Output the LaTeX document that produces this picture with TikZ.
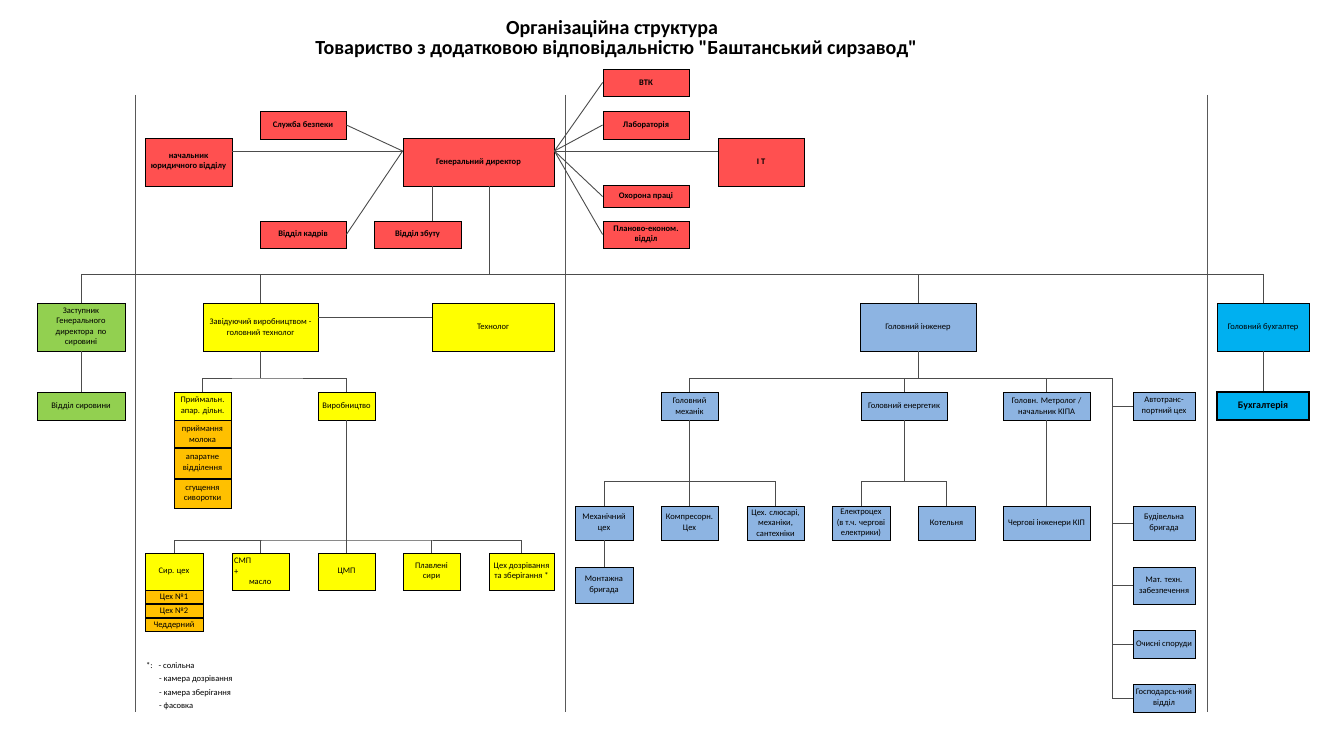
\documentclass[tikz,border=0pt]{standalone}
\usepackage{fontspec}
\setmainfont{Carlito}[Ligatures=TeXOff]
\usepackage{tikz}
\usepackage{xcolor}
\usetikzlibrary{positioning}
\definecolor{redfill}{RGB}{255,80,80}
\definecolor{greenfill}{RGB}{146,208,80}
\definecolor{yellowfill}{RGB}{255,255,0}
\definecolor{orangefill}{RGB}{255,192,0}
\definecolor{bluefill}{RGB}{141,180,226}
\definecolor{cyanfill}{RGB}{0,176,240}
\tikzstyle{box} = [rectangle, draw, line width=0.8pt, align=center, inner sep=1pt, font=\fontsize{8.5}{10.5}\selectfont]
\tikzstyle{redbox} = [box, fill=redfill, font=\bfseries\fontsize{8.5}{10.5}\selectfont]
\tikzstyle{greenbox} = [box, fill=greenfill]
\tikzstyle{yellowbox} = [box, fill=yellowfill]
\tikzstyle{orangebox} = [box, fill=orangefill]
\tikzstyle{bluebox} = [box, fill=bluefill]
\tikzstyle{cyanbox} = [box, fill=cyanfill]
\tikzstyle{title} = [font=\bfseries\fontsize{20}{22}\selectfont]
\tikzstyle{note} = [anchor=west, inner sep=0pt, font=\fontsize{8.5}{10}\selectfont]
\tikzstyle{conn} = [draw=black!70, line width=0.9pt]
\tikzstyle{divider} = [draw=black!65, line width=1pt]

\begin{document}
\begin{tikzpicture}[x=1pt,y=-1pt]
  \fill[white] (0,0) rectangle (1335,735);
  \useasboundingbox (0,0) rectangle (1335,735);

  \node[title] (t1) at (612,29) {Організаційна структура};
  \node[title] (t2) at (616,49) {Товариство з додатковою відповідальністю "Баштанський сирзавод"};

  \draw[divider] (135,95) -- (135,712);
  \draw[divider] (565,95) -- (565,712);
  \draw[divider] (1207,95) -- (1207,712);

  \node[redbox, minimum width=87, minimum height=48] (yur) at (188.5,162) {начальник\\юридичного відділу};
  \node[redbox, minimum width=86, minimum height=28] (sb) at (303,125) {Служба безпеки};
  \node[redbox, minimum width=86, minimum height=27] (vk) at (303,234.5) {Відділ кадрів};
  \node[redbox, minimum width=87, minimum height=27] (vz) at (417.5,234.5) {Відділ збуту};
  \node[redbox, minimum width=151, minimum height=48] (gd) at (478.5,162) {Генеральний директор};
  \node[redbox, minimum width=86, minimum height=27] (vtk) at (646,82.5) {ВТК};
  \node[redbox, minimum width=86, minimum height=28] (lab) at (646,125) {Лабораторія};
  \node[redbox, minimum width=86, minimum height=48] (it) at (761,162) {I T};
  \node[redbox, minimum width=86, minimum height=22] (op) at (646,196.5) {Охорона праці};
  \node[redbox, minimum width=86, minimum height=27] (pe) at (646,234.5) {Планово-економ.\\відділ};

  \node[greenbox, minimum width=88, minimum height=48] (zast) at (81,327) {Заступник\\Генерального\\директора~~по\\сировині};
  \node[greenbox, minimum width=88, minimum height=28] (vs) at (81,406) {Відділ сировини};

  \node[yellowbox, minimum width=115, minimum height=48] (zav) at (260.5,327) {Завідуючий виробництвом -\\головний технолог};
  \node[yellowbox, minimum width=122, minimum height=48] (tech) at (493,327) {Технолог};
  \node[yellowbox, minimum width=57, minimum height=28] (pryi) at (202.5,406) {Приймальн.\\апар. дільн.};
  \node[orangebox, minimum width=57, minimum height=27] (pm) [below=0pt of pryi] {приймання\\молока};
  \node[orangebox, minimum width=57, minimum height=30] (ao) [below=0pt of pm] {апаратне\\відділення};
  \node[orangebox, minimum width=57, minimum height=29] (sg) [below=0pt of ao] {сгущення\\сиворотки};
  \node[yellowbox, minimum width=57, minimum height=28] (vyr) at (346.5,406) {Виробництво};

  \node[yellowbox, minimum width=58, minimum height=37] (syr) at (174,571.5) {Сир. цех};
  \node[orangebox, minimum width=58, minimum height=13] (c1) [below=0pt of syr] {Цех №1};
  \node[orangebox, minimum width=58, minimum height=13] (c2) [below=0pt of c1] {Цех №2};
  \node[orangebox, minimum width=58, minimum height=13] (ched) [below=0pt of c2] {Чеддерний};
  \node[yellowbox, minimum width=57, minimum height=37, text width=53pt, align=left] (smp) at (260.5,571.5) {СМП\\+\\\hspace{15pt}масло};
  \node[yellowbox, minimum width=57, minimum height=37] (cmp) at (346.5,571.5) {ЦМП};
  \node[yellowbox, minimum width=57, minimum height=37] (plav) at (431.5,571.5) {Плавлені\\сири};
  \node[yellowbox, minimum width=65, minimum height=37] (dozr) at (521.5,571.5) {Цех дозрівання\\та зберігання *};

  \node[note] (fn1) at (146,666) {*:\hspace{6pt}- солільна};
  \node[note] (fn2) at (159,679) {- камера дозрівання};
  \node[note] (fn3) at (159,693) {- камера зберігання};
  \node[note] (fn4) at (159,706) {- фасовка};

  \node[bluebox, minimum width=116, minimum height=48] (gi) at (918,327) {Головний інженер};
  \node[bluebox, minimum width=57, minimum height=28] (gm) at (689.5,406) {Головний\\механік};
  \node[bluebox, minimum width=86, minimum height=28] (ge) at (904,406) {Головний енергетик};
  \node[bluebox, minimum width=87, minimum height=28] (gmet) at (1046.5,406) {Головн. Метролог /\\начальник КІПА};
  \node[bluebox, minimum width=62, minimum height=28] (avto) at (1164,406) {Автотранс-\\портний цех};
  \node[bluebox, minimum width=58, minimum height=34] (mc) at (604,523) {Механічний\\цех};
  \node[bluebox, minimum width=57, minimum height=34] (komp) at (689.5,523) {Компресорн.\\Цех};
  \node[bluebox, minimum width=57, minimum height=34] (sl) at (775.5,523) {Цех. слюсарі,\\механіки,\\сантехніки};
  \node[bluebox, minimum width=58, minimum height=34] (el) at (861,523) {Електроцех\\(в т.ч. чергові\\електрики)};
  \node[bluebox, minimum width=57, minimum height=34] (kot) at (946.5,523) {Котельня};
  \node[bluebox, minimum width=87, minimum height=34] (chi) at (1046.5,523) {Чергові інженери КІП};
  \node[bluebox, minimum width=58, minimum height=36] (mont) at (604,585) {Монтажна\\бригада};
  \node[bluebox, minimum width=62, minimum height=34] (bud) at (1164,523) {Будівельна\\бригада};
  \node[bluebox, minimum width=62, minimum height=37] (mat) at (1164,585.5) {Мат. техн.\\забезпечення};
  \node[bluebox, minimum width=62, minimum height=28] (och) at (1164,644) {Очисні споруди};
  \node[bluebox, minimum width=62, minimum height=28] (gosp) at (1164,698) {Господарсь-кий\\відділ};

  \node[cyanbox, minimum width=92, minimum height=48] (gb) at (1263,327) {Головний бухгалтер};
  \node[cyanbox, minimum width=92, minimum height=28, line width=1.6pt, font=\bfseries\fontsize{10}{12}\selectfont] (buh) at (1263,406) {Бухгалтерія};

  \coordinate (topbus) at (489,274);
  \coordinate (gdL) at ([yshift=11pt]gd.west);
  \coordinate (gdR) at ([yshift=11pt]gd.east);
  \coordinate (zavbus) at (260.5,378);
  \coordinate (prodbus) at (346.5,540);
  \coordinate (engbus) at (918,378);
  \coordinate (servline) at (1112,378);
  \coordinate (mechbus) at (689.5,481.7);
  \coordinate (enbus) at (904,481.7);

  \draw[conn] (yur.east |- gdL) -- (gdL);
  \path[conn] (sb.east) edge (gdL);
  \path[conn] (vk.east) edge (gdL);
  \path[conn] (gdR) edge (vtk.west);
  \path[conn] (gdR) edge (lab.west);
  \path[conn] (gdR) edge (it.west |- gdR);
  \path[conn] (gdR) edge (op.west);
  \path[conn] (gdR) edge (pe.west);
  \draw[conn] ([xshift=-46.5pt]gd.south) -- ([xshift=-46.5pt]gd.south |- vz.north);
  \draw[conn] ([xshift=10.5pt]gd.south) -- ([xshift=10.5pt]gd.south |- topbus);

  \draw[conn] (zast.north) |- (topbus -| gb.north) -- (gb.north);
  \draw[conn] (zav.north) -- (zav.north |- topbus);
  \draw[conn] (gi.north) -- (gi.north |- topbus);
  \draw[conn] (zast.south) -- (vs.north);
  \draw[conn] ([yshift=10pt]zav.east) -- ([yshift=10pt]tech.west);

  \draw[conn] (zav.south) -- (zavbus);
  \draw[conn] (pryi.north) |- (zavbus) -| (vyr.north);
  \draw[conn] (vyr.south) -- (cmp.north);
  \draw[conn] (syr.north) |- (prodbus) -| (dozr.north);
  \draw[conn] (smp.north) -- (smp.north |- prodbus);
  \draw[conn] (plav.north) -- (plav.north |- prodbus);

  \draw[conn] (gi.south) -- (engbus);
  \draw[conn] (gm.north) |- (servline) -- (servline |- gosp.west) -- (gosp.west);
  \draw[conn] (ge.north) -- (ge.north |- servline);
  \draw[conn] (gmet.north) -- (gmet.north |- servline);
  \draw[conn] (servline |- avto.west) -- (avto.west);
  \draw[conn] (servline |- bud.west) -- (bud.west);
  \draw[conn] (servline |- mat.west) -- (mat.west);
  \draw[conn] (servline |- och.west) -- (och.west);

  \draw[conn] (gm.south) -- (komp.north);
  \draw[conn] (mc.north) |- (mechbus) -| (sl.north);
  \draw[conn] (ge.south) -- (enbus);
  \draw[conn] (el.north) |- (enbus) -| (kot.north);
  \draw[conn] (gmet.south) -- (chi.north);
  \draw[conn] (mc.south) -- (mont.north);
  \draw[conn] (gb.south) -- (buh.north);
\end{tikzpicture}
\end{document}
